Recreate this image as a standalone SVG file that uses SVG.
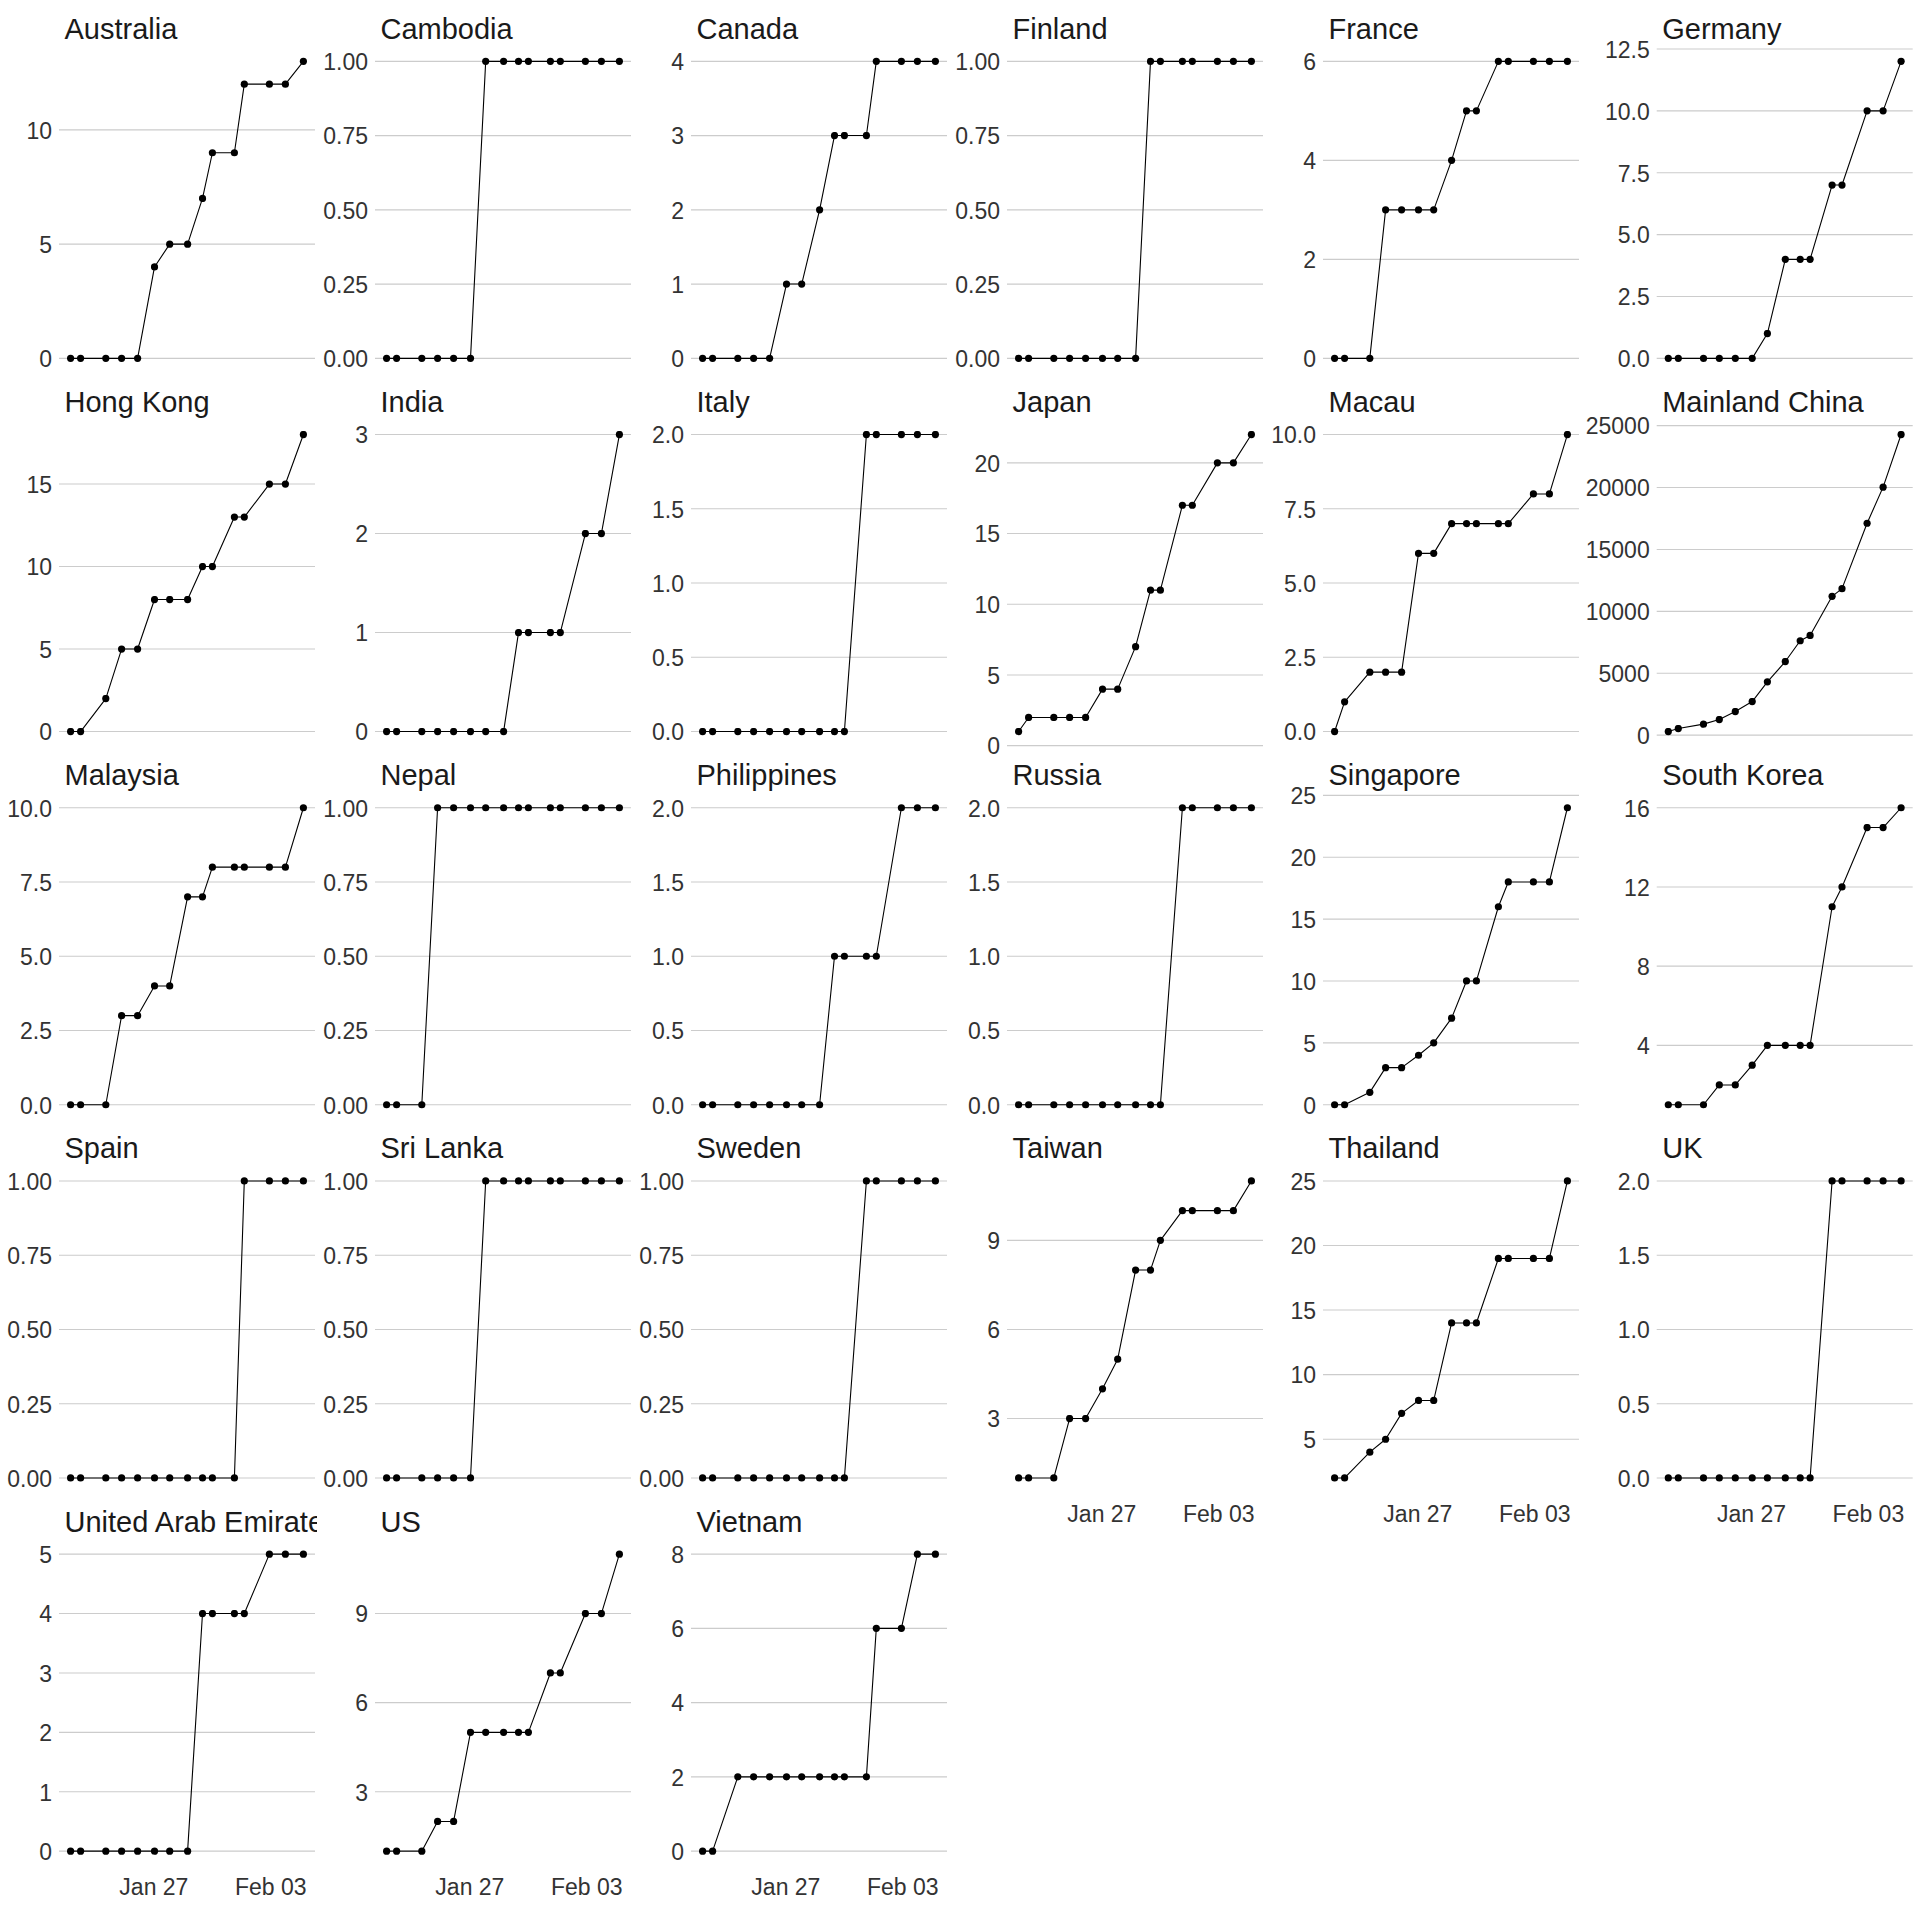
<svg xmlns="http://www.w3.org/2000/svg" width="1920" height="1920" viewBox="0 0 1920 1920">
<style>
text { font-family: "Liberation Sans", Arial, "DejaVu Sans", sans-serif; }
.grid { fill: none; stroke: #CCCCCC; stroke-width: 1.1; }
.ax { font-size: 23px; fill: #333333; text-anchor: end; }
.xl { font-size: 23px; fill: #333333; text-anchor: middle; }
.tt { font-size: 29px; fill: #1A1A1A; }
.ln { fill: none; stroke: #000000; stroke-width: 1.1; stroke-linejoin: round; marker-start: url(#dot); marker-mid: url(#dot); marker-end: url(#dot); }
</style>
<defs>
<marker id="dot" markerUnits="userSpaceOnUse" viewBox="0 0 8 8" refX="4" refY="4" markerWidth="8" markerHeight="8" orient="0">
<circle cx="4" cy="4" r="3.6" fill="#000000"/>
</marker>
<clipPath id="clipStrip"><rect x="0" y="-370" width="258" height="60"/></clipPath>
</defs>
<rect x="0" y="0" width="1920" height="1920" fill="#FFFFFF"/>

<g id="panel-australia" transform="translate(59,358.35)">
<path class="grid" d="M0 0H256M0 -114.2H256M0 -228.5H256"/>
<text class="ax" x="-7" y="8.8">0</text><text class="ax" x="-7" y="-105.4">5</text><text class="ax" x="-7" y="-219.7">10</text>
<polyline class="ln" points="11.6,0 21.6,0 46.8,0 62.6,0 78.6,0 95.5,-91.4 110.7,-114.2 128.6,-114.2 143.5,-159.9 153.4,-205.6 175.4,-205.6 185.3,-274.2 210.4,-274.2 226.4,-274.2 244.4,-297"/>
<text class="tt" x="5.5" y="-319.6">Australia</text>
</g>

<g id="panel-cambodia" transform="translate(375,358.35)">
<path class="grid" d="M0 0H256M0 -74.25H256M0 -148.5H256M0 -222.75H256M0 -297H256"/>
<text class="ax" x="-7" y="8.8">0.00</text><text class="ax" x="-7" y="-65.45">0.25</text><text class="ax" x="-7" y="-139.7">0.50</text><text class="ax" x="-7" y="-213.95">0.75</text><text class="ax" x="-7" y="-288.2">1.00</text>
<polyline class="ln" points="11.6,0 21.6,0 46.8,0 62.6,0 78.6,0 95.5,0 110.7,-297 128.6,-297 143.5,-297 153.4,-297 175.4,-297 185.3,-297 210.4,-297 226.4,-297 244.4,-297"/>
<text class="tt" x="5.5" y="-319.6">Cambodia</text>
</g>

<g id="panel-canada" transform="translate(691,358.35)">
<path class="grid" d="M0 0H256M0 -74.25H256M0 -148.5H256M0 -222.75H256M0 -297H256"/>
<text class="ax" x="-7" y="8.8">0</text><text class="ax" x="-7" y="-65.45">1</text><text class="ax" x="-7" y="-139.7">2</text><text class="ax" x="-7" y="-213.95">3</text><text class="ax" x="-7" y="-288.2">4</text>
<polyline class="ln" points="11.6,0 21.6,0 46.8,0 62.6,0 78.6,0 95.5,-74.3 110.7,-74.3 128.6,-148.5 143.5,-222.8 153.4,-222.8 175.4,-222.8 185.3,-297 210.4,-297 226.4,-297 244.4,-297"/>
<text class="tt" x="5.5" y="-319.6">Canada</text>
</g>

<g id="panel-finland" transform="translate(1007,358.35)">
<path class="grid" d="M0 0H256M0 -74.25H256M0 -148.5H256M0 -222.75H256M0 -297H256"/>
<text class="ax" x="-7" y="8.8">0.00</text><text class="ax" x="-7" y="-65.45">0.25</text><text class="ax" x="-7" y="-139.7">0.50</text><text class="ax" x="-7" y="-213.95">0.75</text><text class="ax" x="-7" y="-288.2">1.00</text>
<polyline class="ln" points="11.6,0 21.6,0 46.8,0 62.6,0 78.6,0 95.5,0 110.7,0 128.6,0 143.5,-297 153.4,-297 175.4,-297 185.3,-297 210.4,-297 226.4,-297 244.4,-297"/>
<text class="tt" x="5.5" y="-319.6">Finland</text>
</g>

<g id="panel-france" transform="translate(1323,358.35)">
<path class="grid" d="M0 0H256M0 -99H256M0 -198H256M0 -297H256"/>
<text class="ax" x="-7" y="8.8">0</text><text class="ax" x="-7" y="-90.2">2</text><text class="ax" x="-7" y="-189.2">4</text><text class="ax" x="-7" y="-288.2">6</text>
<polyline class="ln" points="11.6,0 21.6,0 46.8,0 62.6,-148.5 78.6,-148.5 95.5,-148.5 110.7,-148.5 128.6,-198 143.5,-247.5 153.4,-247.5 175.4,-297 185.3,-297 210.4,-297 226.4,-297 244.4,-297"/>
<text class="tt" x="5.5" y="-319.6">France</text>
</g>

<g id="panel-germany" transform="translate(1656.7,358.35)">
<path class="grid" d="M0 0H256M0 -61.9H256M0 -123.75H256M0 -185.6H256M0 -247.5H256M0 -309.4H256"/>
<text class="ax" x="-7" y="8.8">0.0</text><text class="ax" x="-7" y="-53.1">2.5</text><text class="ax" x="-7" y="-114.95">5.0</text><text class="ax" x="-7" y="-176.8">7.5</text><text class="ax" x="-7" y="-238.7">10.0</text><text class="ax" x="-7" y="-300.6">12.5</text>
<polyline class="ln" points="11.6,0 21.6,0 46.8,0 62.6,0 78.6,0 95.5,0 110.7,-24.8 128.6,-99 143.5,-99 153.4,-99 175.4,-173.3 185.3,-173.3 210.4,-247.5 226.4,-247.5 244.4,-297"/>
<text class="tt" x="5.5" y="-319.6">Germany</text>
</g>

<g id="panel-hong-kong" transform="translate(59,731.55)">
<path class="grid" d="M0 0H256M0 -82.5H256M0 -165H256M0 -247.5H256"/>
<text class="ax" x="-7" y="8.8">0</text><text class="ax" x="-7" y="-73.7">5</text><text class="ax" x="-7" y="-156.2">10</text><text class="ax" x="-7" y="-238.7">15</text>
<polyline class="ln" points="11.6,0 21.6,0 46.8,-33 62.6,-82.5 78.6,-82.5 95.5,-132 110.7,-132 128.6,-132 143.5,-165 153.4,-165 175.4,-214.5 185.3,-214.5 210.4,-247.5 226.4,-247.5 244.4,-297"/>
<text class="tt" x="5.5" y="-319.6">Hong Kong</text>
</g>

<g id="panel-india" transform="translate(375,731.55)">
<path class="grid" d="M0 0H256M0 -99H256M0 -198H256M0 -297H256"/>
<text class="ax" x="-7" y="8.8">0</text><text class="ax" x="-7" y="-90.2">1</text><text class="ax" x="-7" y="-189.2">2</text><text class="ax" x="-7" y="-288.2">3</text>
<polyline class="ln" points="11.6,0 21.6,0 46.8,0 62.6,0 78.6,0 95.5,0 110.7,0 128.6,0 143.5,-99 153.4,-99 175.4,-99 185.3,-99 210.4,-198 226.4,-198 244.4,-297"/>
<text class="tt" x="5.5" y="-319.6">India</text>
</g>

<g id="panel-italy" transform="translate(691,731.55)">
<path class="grid" d="M0 0H256M0 -74.25H256M0 -148.5H256M0 -222.75H256M0 -297H256"/>
<text class="ax" x="-7" y="8.8">0.0</text><text class="ax" x="-7" y="-65.45">0.5</text><text class="ax" x="-7" y="-139.7">1.0</text><text class="ax" x="-7" y="-213.95">1.5</text><text class="ax" x="-7" y="-288.2">2.0</text>
<polyline class="ln" points="11.6,0 21.6,0 46.8,0 62.6,0 78.6,0 95.5,0 110.7,0 128.6,0 143.5,0 153.4,0 175.4,-297 185.3,-297 210.4,-297 226.4,-297 244.4,-297"/>
<text class="tt" x="5.5" y="-319.6">Italy</text>
</g>

<g id="panel-japan" transform="translate(1007,731.55)">
<path class="grid" d="M0 14.1H256M0 -56.6H256M0 -127.3H256M0 -198H256M0 -268.7H256"/>
<text class="ax" x="-7" y="22.9">0</text><text class="ax" x="-7" y="-47.8">5</text><text class="ax" x="-7" y="-118.5">10</text><text class="ax" x="-7" y="-189.2">15</text><text class="ax" x="-7" y="-259.9">20</text>
<polyline class="ln" points="11.6,0 21.6,-14.1 46.8,-14.1 62.6,-14.1 78.6,-14.1 95.5,-42.4 110.7,-42.4 128.6,-84.9 143.5,-141.4 153.4,-141.4 175.4,-226.3 185.3,-226.3 210.4,-268.7 226.4,-268.7 244.4,-297"/>
<text class="tt" x="5.5" y="-319.6">Japan</text>
</g>

<g id="panel-macau" transform="translate(1323,731.55)">
<path class="grid" d="M0 0H256M0 -74.25H256M0 -148.5H256M0 -222.75H256M0 -297H256"/>
<text class="ax" x="-7" y="8.8">0.0</text><text class="ax" x="-7" y="-65.45">2.5</text><text class="ax" x="-7" y="-139.7">5.0</text><text class="ax" x="-7" y="-213.95">7.5</text><text class="ax" x="-7" y="-288.2">10.0</text>
<polyline class="ln" points="11.6,0 21.6,-29.7 46.8,-59.4 62.6,-59.4 78.6,-59.4 95.5,-178.2 110.7,-178.2 128.6,-207.9 143.5,-207.9 153.4,-207.9 175.4,-207.9 185.3,-207.9 210.4,-237.6 226.4,-237.6 244.4,-297"/>
<text class="tt" x="5.5" y="-319.6">Macau</text>
</g>

<g id="panel-mainland-china" transform="translate(1656.7,731.55)">
<path class="grid" d="M0 3.6H256M0 -58.3H256M0 -120.2H256M0 -182.1H256M0 -244H256M0 -305.9H256"/>
<text class="ax" x="-7" y="12.4">0</text><text class="ax" x="-7" y="-49.5">5000</text><text class="ax" x="-7" y="-111.4">10000</text><text class="ax" x="-7" y="-173.3">15000</text><text class="ax" x="-7" y="-235.2">20000</text><text class="ax" x="-7" y="-297.1">25000</text>
<polyline class="ln" points="11.6,0 21.6,-3 46.8,-7.4 62.6,-12 78.6,-20 95.5,-30 110.7,-49.7 128.6,-70 143.5,-90.8 153.4,-96.1 175.4,-135.2 185.3,-142.9 210.4,-208.3 226.4,-244.4 244.4,-297"/>
<text class="tt" x="5.5" y="-319.6">Mainland China</text>
</g>

<g id="panel-malaysia" transform="translate(59,1104.75)">
<path class="grid" d="M0 0H256M0 -74.25H256M0 -148.5H256M0 -222.75H256M0 -297H256"/>
<text class="ax" x="-7" y="8.8">0.0</text><text class="ax" x="-7" y="-65.45">2.5</text><text class="ax" x="-7" y="-139.7">5.0</text><text class="ax" x="-7" y="-213.95">7.5</text><text class="ax" x="-7" y="-288.2">10.0</text>
<polyline class="ln" points="11.6,0 21.6,0 46.8,0 62.6,-89.1 78.6,-89.1 95.5,-118.8 110.7,-118.8 128.6,-207.9 143.5,-207.9 153.4,-237.6 175.4,-237.6 185.3,-237.6 210.4,-237.6 226.4,-237.6 244.4,-297"/>
<text class="tt" x="5.5" y="-319.6">Malaysia</text>
</g>

<g id="panel-nepal" transform="translate(375,1104.75)">
<path class="grid" d="M0 0H256M0 -74.25H256M0 -148.5H256M0 -222.75H256M0 -297H256"/>
<text class="ax" x="-7" y="8.8">0.00</text><text class="ax" x="-7" y="-65.45">0.25</text><text class="ax" x="-7" y="-139.7">0.50</text><text class="ax" x="-7" y="-213.95">0.75</text><text class="ax" x="-7" y="-288.2">1.00</text>
<polyline class="ln" points="11.6,0 21.6,0 46.8,0 62.6,-297 78.6,-297 95.5,-297 110.7,-297 128.6,-297 143.5,-297 153.4,-297 175.4,-297 185.3,-297 210.4,-297 226.4,-297 244.4,-297"/>
<text class="tt" x="5.5" y="-319.6">Nepal</text>
</g>

<g id="panel-philippines" transform="translate(691,1104.75)">
<path class="grid" d="M0 0H256M0 -74.25H256M0 -148.5H256M0 -222.75H256M0 -297H256"/>
<text class="ax" x="-7" y="8.8">0.0</text><text class="ax" x="-7" y="-65.45">0.5</text><text class="ax" x="-7" y="-139.7">1.0</text><text class="ax" x="-7" y="-213.95">1.5</text><text class="ax" x="-7" y="-288.2">2.0</text>
<polyline class="ln" points="11.6,0 21.6,0 46.8,0 62.6,0 78.6,0 95.5,0 110.7,0 128.6,0 143.5,-148.5 153.4,-148.5 175.4,-148.5 185.3,-148.5 210.4,-297 226.4,-297 244.4,-297"/>
<text class="tt" x="5.5" y="-319.6">Philippines</text>
</g>

<g id="panel-russia" transform="translate(1007,1104.75)">
<path class="grid" d="M0 0H256M0 -74.25H256M0 -148.5H256M0 -222.75H256M0 -297H256"/>
<text class="ax" x="-7" y="8.8">0.0</text><text class="ax" x="-7" y="-65.45">0.5</text><text class="ax" x="-7" y="-139.7">1.0</text><text class="ax" x="-7" y="-213.95">1.5</text><text class="ax" x="-7" y="-288.2">2.0</text>
<polyline class="ln" points="11.6,0 21.6,0 46.8,0 62.6,0 78.6,0 95.5,0 110.7,0 128.6,0 143.5,0 153.4,0 175.4,-297 185.3,-297 210.4,-297 226.4,-297 244.4,-297"/>
<text class="tt" x="5.5" y="-319.6">Russia</text>
</g>

<g id="panel-singapore" transform="translate(1323,1104.75)">
<path class="grid" d="M0 0H256M0 -61.9H256M0 -123.75H256M0 -185.6H256M0 -247.5H256M0 -309.4H256"/>
<text class="ax" x="-7" y="8.8">0</text><text class="ax" x="-7" y="-53.1">5</text><text class="ax" x="-7" y="-114.95">10</text><text class="ax" x="-7" y="-176.8">15</text><text class="ax" x="-7" y="-238.7">20</text><text class="ax" x="-7" y="-300.6">25</text>
<polyline class="ln" points="11.6,0 21.6,0 46.8,-12.4 62.6,-37.1 78.6,-37.1 95.5,-49.5 110.7,-61.9 128.6,-86.6 143.5,-123.8 153.4,-123.8 175.4,-198 185.3,-222.8 210.4,-222.8 226.4,-222.8 244.4,-297"/>
<text class="tt" x="5.5" y="-319.6">Singapore</text>
</g>

<g id="panel-south-korea" transform="translate(1656.7,1104.75)">
<path class="grid" d="M0 -59.4H256M0 -138.6H256M0 -217.8H256M0 -297H256"/>
<text class="ax" x="-7" y="-50.6">4</text><text class="ax" x="-7" y="-129.8">8</text><text class="ax" x="-7" y="-209">12</text><text class="ax" x="-7" y="-288.2">16</text>
<polyline class="ln" points="11.6,0 21.6,0 46.8,0 62.6,-19.8 78.6,-19.8 95.5,-39.6 110.7,-59.4 128.6,-59.4 143.5,-59.4 153.4,-59.4 175.4,-198 185.3,-217.8 210.4,-277.2 226.4,-277.2 244.4,-297"/>
<text class="tt" x="5.5" y="-319.6">South Korea</text>
</g>

<g id="panel-spain" transform="translate(59,1477.95)">
<path class="grid" d="M0 0H256M0 -74.25H256M0 -148.5H256M0 -222.75H256M0 -297H256"/>
<text class="ax" x="-7" y="8.8">0.00</text><text class="ax" x="-7" y="-65.45">0.25</text><text class="ax" x="-7" y="-139.7">0.50</text><text class="ax" x="-7" y="-213.95">0.75</text><text class="ax" x="-7" y="-288.2">1.00</text>
<polyline class="ln" points="11.6,0 21.6,0 46.8,0 62.6,0 78.6,0 95.5,0 110.7,0 128.6,0 143.5,0 153.4,0 175.4,0 185.3,-297 210.4,-297 226.4,-297 244.4,-297"/>
<text class="tt" x="5.5" y="-319.6">Spain</text>
</g>

<g id="panel-sri-lanka" transform="translate(375,1477.95)">
<path class="grid" d="M0 0H256M0 -74.25H256M0 -148.5H256M0 -222.75H256M0 -297H256"/>
<text class="ax" x="-7" y="8.8">0.00</text><text class="ax" x="-7" y="-65.45">0.25</text><text class="ax" x="-7" y="-139.7">0.50</text><text class="ax" x="-7" y="-213.95">0.75</text><text class="ax" x="-7" y="-288.2">1.00</text>
<polyline class="ln" points="11.6,0 21.6,0 46.8,0 62.6,0 78.6,0 95.5,0 110.7,-297 128.6,-297 143.5,-297 153.4,-297 175.4,-297 185.3,-297 210.4,-297 226.4,-297 244.4,-297"/>
<text class="tt" x="5.5" y="-319.6">Sri Lanka</text>
</g>

<g id="panel-sweden" transform="translate(691,1477.95)">
<path class="grid" d="M0 0H256M0 -74.25H256M0 -148.5H256M0 -222.75H256M0 -297H256"/>
<text class="ax" x="-7" y="8.8">0.00</text><text class="ax" x="-7" y="-65.45">0.25</text><text class="ax" x="-7" y="-139.7">0.50</text><text class="ax" x="-7" y="-213.95">0.75</text><text class="ax" x="-7" y="-288.2">1.00</text>
<polyline class="ln" points="11.6,0 21.6,0 46.8,0 62.6,0 78.6,0 95.5,0 110.7,0 128.6,0 143.5,0 153.4,0 175.4,-297 185.3,-297 210.4,-297 226.4,-297 244.4,-297"/>
<text class="tt" x="5.5" y="-319.6">Sweden</text>
</g>

<g id="panel-taiwan" transform="translate(1007,1477.95)">
<path class="grid" d="M0 -59.4H256M0 -148.5H256M0 -237.6H256"/>
<text class="ax" x="-7" y="-50.6">3</text><text class="ax" x="-7" y="-139.7">6</text><text class="ax" x="-7" y="-228.8">9</text>
<polyline class="ln" points="11.6,0 21.6,0 46.8,0 62.6,-59.4 78.6,-59.4 95.5,-89.1 110.7,-118.8 128.6,-207.9 143.5,-207.9 153.4,-237.6 175.4,-267.3 185.3,-267.3 210.4,-267.3 226.4,-267.3 244.4,-297"/>
<text class="tt" x="5.5" y="-319.6">Taiwan</text>
<text class="xl" x="94.9" y="43.75">Jan 27</text><text class="xl" x="211.7" y="43.75">Feb 03</text>
</g>

<g id="panel-thailand" transform="translate(1323,1477.95)">
<path class="grid" d="M0 -38.7H256M0 -103.3H256M0 -167.9H256M0 -232.4H256M0 -297H256"/>
<text class="ax" x="-7" y="-29.9">5</text><text class="ax" x="-7" y="-94.5">10</text><text class="ax" x="-7" y="-159.1">15</text><text class="ax" x="-7" y="-223.6">20</text><text class="ax" x="-7" y="-288.2">25</text>
<polyline class="ln" points="11.6,0 21.6,0 46.8,-25.8 62.6,-38.7 78.6,-64.6 95.5,-77.5 110.7,-77.5 128.6,-155 143.5,-155 153.4,-155 175.4,-219.5 185.3,-219.5 210.4,-219.5 226.4,-219.5 244.4,-297"/>
<text class="tt" x="5.5" y="-319.6">Thailand</text>
<text class="xl" x="94.9" y="43.75">Jan 27</text><text class="xl" x="211.7" y="43.75">Feb 03</text>
</g>

<g id="panel-uk" transform="translate(1656.7,1477.95)">
<path class="grid" d="M0 0H256M0 -74.25H256M0 -148.5H256M0 -222.75H256M0 -297H256"/>
<text class="ax" x="-7" y="8.8">0.0</text><text class="ax" x="-7" y="-65.45">0.5</text><text class="ax" x="-7" y="-139.7">1.0</text><text class="ax" x="-7" y="-213.95">1.5</text><text class="ax" x="-7" y="-288.2">2.0</text>
<polyline class="ln" points="11.6,0 21.6,0 46.8,0 62.6,0 78.6,0 95.5,0 110.7,0 128.6,0 143.5,0 153.4,0 175.4,-297 185.3,-297 210.4,-297 226.4,-297 244.4,-297"/>
<text class="tt" x="5.5" y="-319.6">UK</text>
<text class="xl" x="94.9" y="43.75">Jan 27</text><text class="xl" x="211.7" y="43.75">Feb 03</text>
</g>

<g id="panel-united-arab-emirates" transform="translate(59,1851.15)">
<path class="grid" d="M0 0H256M0 -59.4H256M0 -118.8H256M0 -178.2H256M0 -237.6H256M0 -297H256"/>
<text class="ax" x="-7" y="8.8">0</text><text class="ax" x="-7" y="-50.6">1</text><text class="ax" x="-7" y="-110">2</text><text class="ax" x="-7" y="-169.4">3</text><text class="ax" x="-7" y="-228.8">4</text><text class="ax" x="-7" y="-288.2">5</text>
<polyline class="ln" points="11.6,0 21.6,0 46.8,0 62.6,0 78.6,0 95.5,0 110.7,0 128.6,0 143.5,-237.6 153.4,-237.6 175.4,-237.6 185.3,-237.6 210.4,-297 226.4,-297 244.4,-297"/>
<text class="tt" x="5.5" y="-319.6" clip-path="url(#clipStrip)">United Arab Emirates</text>
<text class="xl" x="94.9" y="43.75">Jan 27</text><text class="xl" x="211.7" y="43.75">Feb 03</text>
</g>

<g id="panel-us" transform="translate(375,1851.15)">
<path class="grid" d="M0 -59.4H256M0 -148.5H256M0 -237.6H256"/>
<text class="ax" x="-7" y="-50.6">3</text><text class="ax" x="-7" y="-139.7">6</text><text class="ax" x="-7" y="-228.8">9</text>
<polyline class="ln" points="11.6,0 21.6,0 46.8,0 62.6,-29.7 78.6,-29.7 95.5,-118.8 110.7,-118.8 128.6,-118.8 143.5,-118.8 153.4,-118.8 175.4,-178.2 185.3,-178.2 210.4,-237.6 226.4,-237.6 244.4,-297"/>
<text class="tt" x="5.5" y="-319.6">US</text>
<text class="xl" x="94.9" y="43.75">Jan 27</text><text class="xl" x="211.7" y="43.75">Feb 03</text>
</g>

<g id="panel-vietnam" transform="translate(691,1851.15)">
<path class="grid" d="M0 0H256M0 -74.25H256M0 -148.5H256M0 -222.75H256M0 -297H256"/>
<text class="ax" x="-7" y="8.8">0</text><text class="ax" x="-7" y="-65.45">2</text><text class="ax" x="-7" y="-139.7">4</text><text class="ax" x="-7" y="-213.95">6</text><text class="ax" x="-7" y="-288.2">8</text>
<polyline class="ln" points="11.6,0 21.6,0 46.8,-74.3 62.6,-74.3 78.6,-74.3 95.5,-74.3 110.7,-74.3 128.6,-74.3 143.5,-74.3 153.4,-74.3 175.4,-74.3 185.3,-222.8 210.4,-222.8 226.4,-297 244.4,-297"/>
<text class="tt" x="5.5" y="-319.6">Vietnam</text>
<text class="xl" x="94.9" y="43.75">Jan 27</text><text class="xl" x="211.7" y="43.75">Feb 03</text>
</g>
</svg>
